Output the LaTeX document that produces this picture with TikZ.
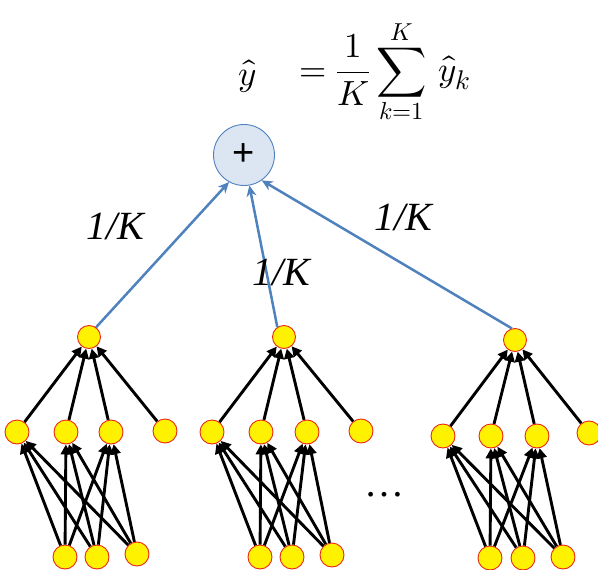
\documentclass[tikz,border=0pt]{standalone}
\usepackage{amsmath}
\usepackage{unicode-math}
\setmainfont{Liberation Serif}
\newfontfamily\plusfont{Liberation Sans}
\usetikzlibrary{arrows.meta}
\definecolor{bluecol}{RGB}{79,129,189}
\definecolor{plusfill}{RGB}{220,230,242}
\definecolor{nodeborder}{RGB}{235,40,20}
\begin{document}
\begin{tikzpicture}[x=1pt,y=-1pt,
  neuron/.style={circle,fill=yellow,draw=nodeborder,line width=0.9pt,minimum size=24pt,inner sep=0pt},
  topn/.style={neuron,minimum size=23pt},
  plusn/.style={circle,fill=plusfill,draw=bluecol,line width=0.9pt,minimum size=61pt,inner sep=0pt,font=\fontsize{38}{38}\selectfont\plusfont},
  conn/.style={-{Triangle[length=10pt,width=10pt]},line width=2.9pt,black},
  blueconn/.style={-{Stealth[length=11pt,width=10pt]},line width=2.5pt,bluecol},
  wlabel/.style={font=\fontsize{40}{40}\selectfont\itshape},
  mathn/.style={font=\fontsize{35}{40}\selectfont}]
\useasboundingbox (0,0) rectangle (598,570);

% formula
\node[mathn] (yhat) at (248,76) {$\hat{y}$};
\node[mathn,anchor=west,inner sep=0pt] (eq) at (299,72) {$\displaystyle =\frac{1}{K}\sum_{k=1}^{K}\,\widehat{y}_{\text{\fontsize{27}{27}\selectfont$k$}}$};

% plus node
\node[plusn] (plus) at (244,155) {+};

% tree 1
\node[topn] (t1) at (89,337) {};
\node[neuron] (m11) at (17,432) {};
\node[neuron] (m12) at (66,432) {};
\node[neuron] (m13) at (111,432) {};
\node[neuron] (m14) at (165,431) {};
\node[neuron] (b11) at (65,557) {};
\node[neuron] (b12) at (97,557) {};
\node[neuron] (b13) at (137,554) {};

% tree 2
\node[topn] (t2) at (284,337) {};
\node[neuron] (m21) at (212,432) {};
\node[neuron] (m22) at (261,432) {};
\node[neuron] (m23) at (307,432) {};
\node[neuron] (m24) at (361,431) {};
\node[neuron] (b21) at (260,557) {};
\node[neuron] (b22) at (292,557) {};
\node[neuron] (b23) at (332,555) {};

% tree 3
\node[topn] (t3) at (515,340) {};
\node[neuron] (m31) at (443,436) {};
\node[neuron] (m32) at (491,436) {};
\node[neuron] (m33) at (537,436) {};
\node[neuron] (m34) at (589,433) {};
\node[neuron] (b31) at (490,558) {};
\node[neuron] (b32) at (523,558) {};
\node[neuron] (b33) at (563,557) {};

\foreach \t in {1,2,3}{
  \foreach \m in {1,2,3,4}{\draw[conn] (m\t\m) -- (t\t);}
  \foreach \b in {1,2,3}{\foreach \m in {1,2,3}{\draw[conn] (b\t\b) -- (m\t\m);}}
}

% blue connectors
\draw[blueconn] (t1.54) -- (plus.241);
\draw[blueconn] (t2.124) -- (plus.280);
\draw[blueconn] (t3.105) -- (plus.305);

% labels
\node[wlabel] (l1) at (115,226) {1/K};
\node[wlabel] (l2) at (281,272) {1/K};
\node[wlabel] (l3) at (403,217) {1/K};

\node[font=\fontsize{40}{40}\selectfont] (dots) at (384,495) {…};
\end{tikzpicture}
\end{document}
